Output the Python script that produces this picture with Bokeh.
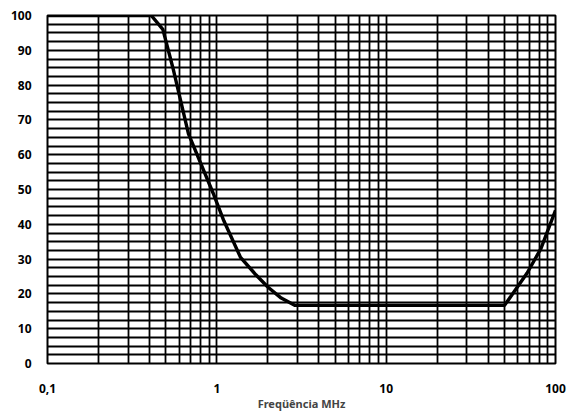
from bokeh.plotting import figure
from bokeh.models import FixedTicker, SingleIntervalTicker, CustomJSTickFormatter
from bokeh.embed import file_html
from bokeh.resources import INLINE

# Data
freq_mhz = [0.1, 0.41, 0.48, 0.55, 0.68, 0.95, 1.1, 1.38, 1.7, 2.0, 2.4, 2.9, 50, 68, 82, 100]
percent = [100, 100, 96, 85, 66, 49, 41, 30.5, 25.5, 22, 18.8, 16.7, 16.7, 26, 33, 44]

x_major_ticks = [0.1, 1, 10, 100]
x_grid_ticks = [m * 10.0 ** d for d in (-1, 0, 1) for m in range(1, 10)] + [100]
y_label_interval = 10
y_grid_interval = 2.5
x_title = "Freqüência MHz"

FONT = "Noto Sans"

p = figure(width=568, height=415, x_axis_type="log", x_range=(0.1, 100), y_range=(0, 100),
           output_backend="svg", toolbar_location=None)
p.min_border_left = 47
p.min_border_right = 13
p.min_border_top = 15
p.min_border_bottom = 52
p.background_fill_color = "white"
p.border_fill_color = "white"
p.outline_line_color = "black"
p.outline_line_width = 2

# grids
p.xgrid.ticker = FixedTicker(ticks=x_grid_ticks)
p.xgrid.grid_line_color = "black"
p.xgrid.grid_line_width = 1.8
p.ygrid.ticker = SingleIntervalTicker(interval=y_grid_interval)
p.ygrid.grid_line_color = "black"
p.ygrid.grid_line_width = 2

# axes
p.xaxis.ticker = FixedTicker(ticks=x_major_ticks)
p.xaxis.formatter = CustomJSTickFormatter(code="return tick < 1 ? String(tick).replace('.', ',') : String(Math.round(tick));")
p.yaxis.ticker = SingleIntervalTicker(interval=y_label_interval)
for ax in (p.xaxis, p.yaxis):
    ax.axis_line_color = None
    ax.major_tick_line_color = None
    ax.minor_tick_line_color = None
    ax.major_label_text_font = FONT
    ax.major_label_text_font_style = "bold"
    ax.major_label_text_font_size = "12px"
    ax.major_label_text_color = "black"
p.xaxis.major_label_standoff = 14
p.yaxis.major_label_standoff = 10
p.xaxis.axis_label = x_title
p.xaxis.axis_label_text_font = FONT
p.xaxis.axis_label_text_font_style = "bold"
p.xaxis.axis_label_text_font_size = "11px"
p.xaxis.axis_label_standoff = 0

p.line(freq_mhz, percent, line_color="black", line_width=3.4, line_join="round")

open("out.html", "w").write(file_html(p, INLINE))
